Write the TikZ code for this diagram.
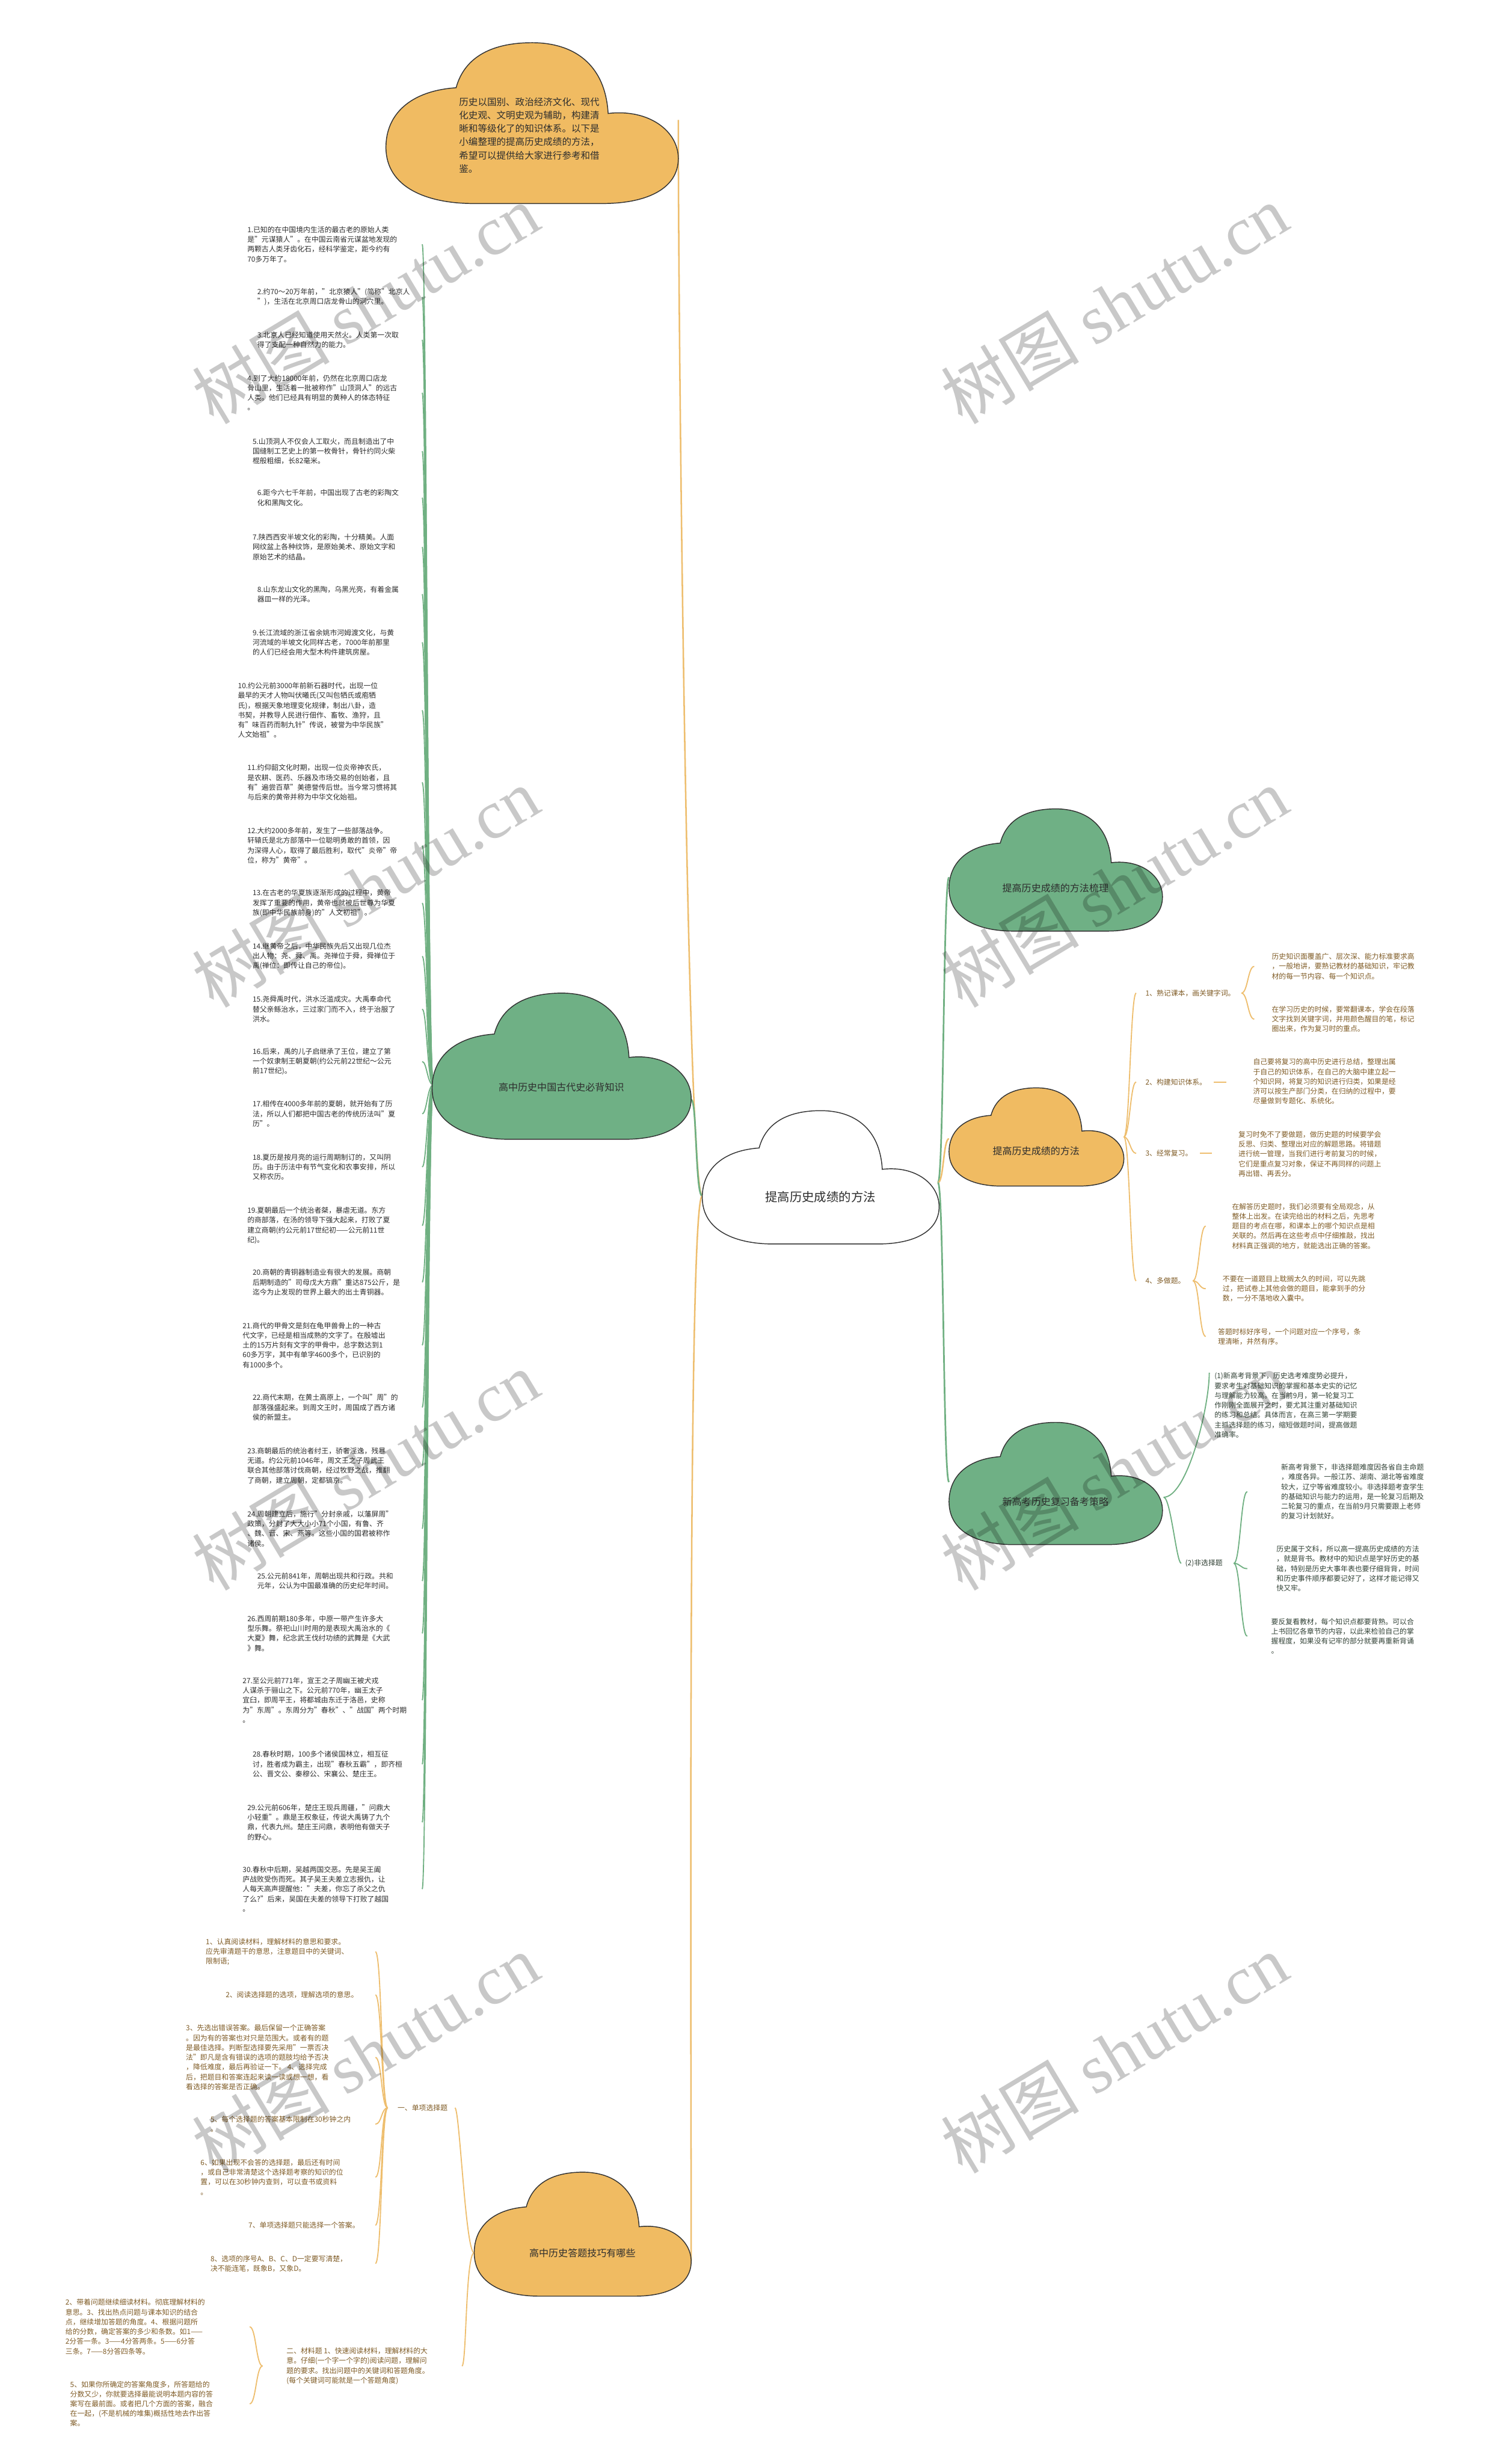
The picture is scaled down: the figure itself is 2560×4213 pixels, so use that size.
\documentclass[tikz,border=0pt]{standalone}
\usepackage{fontspec}
\setmainfont{Noto Sans CJK SC}
\newfontfamily\wmlatin{Liberation Serif}
\usetikzlibrary{calc}
\definecolor{cgreen}{RGB}{111,176,133}
\definecolor{corange}{RGB}{240,187,98}
\definecolor{lgreen}{RGB}{112,176,130}
\definecolor{lorange}{RGB}{238,190,110}
\definecolor{tdark}{RGB}{45,45,45}
\definecolor{tbrown}{RGB}{128,92,38}
\definecolor{tgreen}{RGB}{50,66,54}
\definecolor{wmgray}{RGB}{200,200,200}
\newcommand\drawcloud[4]{%
\begin{scope}[shift={(#1.north west)},xscale=#2,yscale=#3]
\filldraw[fill=#4,draw=black!80,line width=1.5pt]
 (0.24,0.28) .. controls (0.08,0.30) and (0,0.45) .. (0,0.65)
 .. controls (0,0.90) and (0.14,1) .. (0.30,1) -- (0.74,1)
 .. controls (0.90,1) and (1,0.90) .. (1,0.72)
 .. controls (1,0.55) and (0.90,0.41) .. (0.76,0.44)
 .. controls (0.75,0.13) and (0.64,0) .. (0.50,0)
 .. controls (0.37,0) and (0.27,0.08) .. (0.24,0.28) -- cycle;
\end{scope}}
\tikzset{
 tx/.style={inner sep=0pt,outer sep=0pt,align=left,anchor=north west,font=\fontsize{12.2}{16.7}\selectfont},
 tL/.style={tx,text=tdark},
 tO/.style={tx,text=tbrown},
 tG/.style={tx,text=tgreen},
 lab/.style={inner sep=0pt,outer sep=0pt,anchor=west,font=\fontsize{12.2}{16.7}\selectfont},
 cbox/.style={draw=none,inner sep=0pt,outer sep=0pt},
 ctext/.style={inner sep=0pt,font=\fontsize{16.5}{20}\selectfont,text=tdark},
 gmain/.style={draw=lgreen,line width=2.8pt},
 omain/.style={draw=lorange,line width=2.6pt},
 gsub/.style={draw=lgreen,line width=1.9pt},
 osub/.style={draw=lorange,line width=1.9pt},
 wmark/.style={rotate=31,text=wmgray,inner sep=0pt,font=\fontsize{118}{120}\selectfont},
}
\begin{document}
\begin{tikzpicture}[x=1pt,y=-1pt]
\useasboundingbox (0,0) rectangle (2560,4213);
\fill[white] (0,0) rectangle (2560,4213);

% ---------- cloud boxes ----------
\node[cbox,minimum width=500pt,minimum height=275pt] (topc) at (910,210.5) {};
\node[cbox,minimum width=405pt,minimum height=228pt] (cen) at (1403.5,2013) {};
\node[cbox,minimum width=443pt,minimum height=250pt] (gl) at (960.5,1823) {};
\node[cbox,minimum width=365pt,minimum height=209pt] (gt) at (1805.5,1487.5) {};
\node[cbox,minimum width=299pt,minimum height=168pt] (oc) at (1772.5,1944) {};
\node[cbox,minimum width=365pt,minimum height=209pt] (gb) at (1805.5,2536.5) {};
\node[cbox,minimum width=371pt,minimum height=212pt] (ob) at (996.5,3820) {};

% ---------- connector points ----------
\coordinate (cL) at (1201,2045);
\coordinate (cR) at (1604,2022);
\coordinate (tR) at (1160,205);
\coordinate (gR) at (1182,1880);
\coordinate (bR) at (1182,3866);
\coordinate (gtL) at (1623,1500);
\coordinate (ocL) at (1623,1947);
\coordinate (gbL) at (1623,2534);
\coordinate (gLp) at (741,1855);
\coordinate (lcol) at (722,0);
\coordinate (ocR) at (1922,1944);
\coordinate (ocol) at (1943,0);
\coordinate (b1v) at (2123,1698);
\coordinate (b1t) at (2145,0);
\coordinate (o2a) at (2076,0);
\coordinate (o2b) at (2097,0);
\coordinate (o3a) at (2052,0);
\coordinate (o3b) at (2073,0);
\coordinate (b4v) at (2040,2190);
\coordinate (b4t) at (2062,0);
\coordinate (gbR) at (1990,2560);
\coordinate (g1e) at (2068,2347);
\coordinate (g2e) at (2020,0);
\coordinate (g2v) at (2110,2673);
\coordinate (g2t) at (2133,0);
\coordinate (obL) at (811,3852);
\coordinate (uex) at (778,0);
\coordinate (uv) at (663,3604);
\coordinate (utx) at (642,0);
\coordinate (mex) at (790,0);
\coordinate (mvx) at (449,0);
\coordinate (mtx) at (427,0);

% ---------- left column texts ----------
\node[tL] (L1) at (423,387) {1.已知的在中国境内生活的最古老的原始人类\\是"元谋猿人"。在中国云南省元谋盆地发现的\\两颗古人类牙齿化石，经科学鉴定，距今约有\\70多万年了。};
\node[tL] (L2) at (440,493) {2.约70～20万年前，"北京猿人"(简称"北京人\\")，生活在北京周口店龙骨山的洞穴里。};
\node[tL] (L3) at (440,567) {3.北京人已经知道使用天然火。人类第一次取\\得了支配一种自然力的能力。};
\node[tL] (L4) at (423,641) {4.到了大约18000年前，仍然在北京周口店龙\\骨山里，生活着一批被称作"山顶洞人"的远古\\人类。他们已经具有明显的黄种人的体态特征\\。};
\node[tL] (L5) at (432,749) {5.山顶洞人不仅会人工取火，而且制造出了中\\国缝制工艺史上的第一枚骨针，骨针约同火柴\\棍般粗细，长82毫米。};
\node[tL] (L6) at (440,837) {6.距今六七千年前，中国出现了古老的彩陶文\\化和黑陶文化。};
\node[tL] (L7) at (432,913) {7.陕西西安半坡文化的彩陶，十分精美。人面\\网纹盆上各种纹饰，是原始美术、原始文字和\\原始艺术的结晶。};
\node[tL] (L8) at (440,1002) {8.山东龙山文化的黑陶，乌黑光亮，有着金属\\器皿一样的光泽。};
\node[tL] (L9) at (432,1076) {9.长江流域的浙江省余姚市河姆渡文化，与黄\\河流域的半坡文化同样古老，7000年前那里\\的人们已经会用大型木构件建筑房屋。};
\node[tL] (L10) at (407,1167) {10.约公元前3000年前新石器时代，出现一位\\最早的天才人物叫伏曦氏(又叫包牺氏或庖牺\\氏)，根据天象地理变化规律，制出八卦，造\\书契，并教导人民进行佃作、畜牧、渔狩，且\\有"味百药而制九针"传说，被誉为中华民族"\\人文始祖"。};
\node[tL] (L11) at (423,1307) {11.约仰韶文化时期，出现一位炎帝神农氏，\\是农耕、医药、乐器及市场交易的创始者，且\\有"遍尝百草"美德誉传后世。当今常习惯将其\\与后来的黄帝并称为中华文化始祖。};
\node[tL] (L12) at (423,1415) {12.大约2000多年前，发生了一些部落战争。\\轩辕氏是北方部落中一位聪明勇敢的首领，因\\为深得人心，取得了最后胜利，取代"炎帝"帝\\位，称为"黄帝"。};
\node[tL] (L13) at (432,1521) {13.在古老的华夏族逐渐形成的过程中，黄帝\\发挥了重要的作用，黄帝也就被后世尊为华夏\\族(即中华民族前身)的"人文初祖"。};
\node[tL] (L14) at (432,1612) {14.继黄帝之后，中华民族先后又出现几位杰\\出人物：尧、舜、禹。尧禅位于舜，舜禅位于\\禹(禅位：即传让自己的帝位)。};
\node[tL] (L15) at (432,1703) {15.尧舜禹时代，洪水泛滥成灾。大禹奉命代\\替父亲鲧治水，三过家门而不入，终于治服了\\洪水。};
\node[tL] (L16) at (432,1792) {16.后来，禹的儿子启继承了王位，建立了第\\一个奴隶制王朝夏朝(约公元前22世纪～公元\\前17世纪)。};
\node[tL] (L17) at (432,1882) {17.相传在4000多年前的夏朝，就开始有了历\\法，所以人们都把中国古老的传统历法叫"夏\\历"。};
\node[tL] (L18) at (432,1973) {18.夏历是按月亮的运行周期制订的，又叫阴\\历。由于历法中有节气变化和农事安排，所以\\又称农历。};
\node[tL] (L19) at (423,2064) {19.夏朝最后一个统治者桀，暴虐无道。东方\\的商部落，在汤的领导下强大起来，打败了夏\\建立商朝(约公元前17世纪初——公元前11世\\纪)。};
\node[tL] (L20) at (432,2170) {20.商朝的青铜器制造业有很大的发展。商朝\\后期制造的"司母戊大方鼎"重达875公斤，是\\迄今为止发现的世界上最大的出土青铜器。};
\node[tL] (L21) at (415,2261) {21.商代的甲骨文是刻在龟甲兽骨上的一种古\\代文字，已经是相当成熟的文字了。在殷墟出\\土的15万片刻有文字的甲骨中，总字数达到1\\60多万字，其中有单字4600多个，已识别的\\有1000多个。};
\node[tL] (L22) at (432,2384) {22.商代末期，在黄土高原上，一个叫"周"的\\部落强盛起来。到周文王时，周国成了西方诸\\侯的新盟主。};
\node[tL] (L23) at (423,2475) {23.商朝最后的统治者纣王，骄奢淫逸，残暴\\无道。约公元前1046年，周文王之子周武王\\联合其他部落讨伐商朝，经过牧野之战，推翻\\了商朝，建立周朝，定都镐京。};
\node[tL] (L24) at (423,2583) {24.周朝建立后，施行"分封亲戚，以藩屏周"\\政策，分封了大大小小71个小国，有鲁、齐\\、魏、晋、宋、燕等。这些小国的国君被称作\\诸侯。};
\node[tL] (L25) at (440,2689) {25.公元前841年，周朝出现共和行政。共和\\元年，公认为中国最准确的历史纪年时间。};
\node[tL] (L26) at (423,2762) {26.西周前期180多年，中原一带产生许多大\\型乐舞。祭祀山川时用的是表现大禹治水的《\\大夏》舞，纪念武王伐纣功绩的武舞是《大武\\》舞。};
\node[tL] (L27) at (415,2868) {27.至公元前771年，宣王之子周幽王被犬戎\\人谋杀于骊山之下。公元前770年，幽王太子\\宜臼，即周平王，将都城由东迁于洛邑，史称\\为"东周"。东周分为"春秋"、"战国"两个时期\\。};
\node[tL] (L28) at (432,2994) {28.春秋时期，100多个诸侯国林立，相互征\\讨，胜者成为霸主，出现"春秋五霸"，即齐桓\\公、晋文公、秦穆公、宋襄公、楚庄王。};
\node[tL] (L29) at (423,3085) {29.公元前606年，楚庄王现兵周疆，"问鼎大\\小轻重"。鼎是王权象征，传说大禹铸了九个\\鼎，代表九州。楚庄王问鼎，表明他有做天子\\的野心。};
\node[tL] (L30) at (415,3191) {30.春秋中后期，吴越两国交恶。先是吴王阖\\庐战败受伤而死。其子吴王夫差立志报仇，让\\人每天高声提醒他："夫差，你忘了杀父之仇\\了么?"后来，吴国在夫差的领导下打败了越国\\。};

% ---------- right orange branch ----------
\node[lab,text=tbrown] (O1) at (1959,1698) {1、熟记课本，画关键字词。};
\node[lab,text=tbrown] (O2) at (1959,1850) {2、构建知识体系。};
\node[lab,text=tbrown] (O3) at (1959,1972) {3、经常复习。};
\node[lab,text=tbrown] (O4) at (1959,2190) {4、多做题。};
\node[tO] (OA) at (2175,1630) {历史知识面覆盖广、层次深、能力标准要求高\\，一般地讲，要熟记教材的基础知识，牢记教\\材的每一节内容、每一个知识点。};
\node[tO] (OB) at (2175,1720) {在学习历史的时候，要常翻课本，学会在段落\\文字找到关键字词，并用颜色醒目的笔，标记\\圈出来，作为复习时的重点。};
\node[tO] (O2t) at (2143,1810) {自己要将复习的高中历史进行总结，整理出属\\于自己的知识体系，在自己的大脑中建立起一\\个知识网，将复习的知识进行归类，如果是经\\济可以按生产部门分类，在归纳的过程中，要\\尽量做到专题化、系统化。};
\node[tO] (O3t) at (2118,1934) {复习时免不了要做题，做历史题的时候要学会\\反思、归类、整理出对应的解题思路。将错题\\进行统一管理，当我们进行考前复习的时候，\\它们是重点复习对象，保证不再同样的问题上\\再出错、再丢分。};
\node[tO] (O4a) at (2107,2057) {在解答历史题时，我们必须要有全局观念，从\\整体上出发。在读完给出的材料之后，先思考\\题目的考点在哪，和课本上的哪个知识点是相\\关联的。然后再在这些考点中仔细推敲，找出\\材料真正强调的地方，就能选出正确的答案。};
\node[tO] (O4b) at (2091,2181) {不要在一道题目上耽搁太久的时间，可以先跳\\过，把试卷上其他会做的题目，能拿到手的分\\数，一分不落地收入囊中。};
\node[tO] (O4c) at (2083,2271) {答题时标好序号，一个问题对应一个序号，条\\理清晰，井然有序。};

% ---------- right green branch ----------
\node[tG] (G1) at (2077,2347) {(1)新高考背景下，历史选考难度势必提升，\\要求考生对基础知识的掌握和基本史实的记忆\\与理解能力较高。在当前9月，第一轮复习工\\作刚刚全面展开之时，要尤其注重对基础知识\\的练习和总结。具体而言，在高三第一学期要\\主抓选择题的练习，缩短做题时间，提高做题\\准确率。};
\node[lab,text=tgreen] (G2) at (2027,2673) {(2)非选择题};
\node[tG] (G2a) at (2191,2503) {新高考背景下，非选择题难度因各省自主命题\\，难度各异。一般江苏、湖南、湖北等省难度\\较大，辽宁等省难度较小。非选择题考查学生\\的基础知识与能力的运用，是一轮复习后期及\\二轮复习的重点，在当前9月只需要跟上老师\\的复习计划就好。};
\node[tG] (G2b) at (2183,2643) {历史属于文科，所以高一提高历史成绩的方法\\，就是背书。教材中的知识点是学好历史的基\\础，特别是历史大事年表也要仔细背背，时间\\和历史事件顺序都要记好了，这样才能记得又\\快又牢。};
\node[tG] (G2c) at (2174,2767) {要反复看教材，每个知识点都要背熟。可以合\\上书回忆各章节的内容，以此来检验自己的掌\\握程度，如果没有记牢的部分就要再重新背诵\\。};

% ---------- bottom orange branch ----------
\node[lab,text=tbrown] (U) at (680,3604) {一、单项选择题};
\node[tO] (U1) at (352,3314) {1、认真阅读材料，理解材料的意思和要求。\\应先审清题干的意思，注意题目中的关键词、\\限制语;};
\node[tO] (U2) at (386,3405) {2、阅读选择题的选项，理解选项的意思。};
\node[tO] (U3) at (318,3462) {3、先选出错误答案。最后保留一个正确答案\\。因为有的答案也对只是范围大。或者有的题\\是最佳选择。判断型选择要先采用"一票否决\\法"即凡是含有错误的选项的题肢均给予否决\\，降低难度，最后再验证一下。 4、选择完成\\后，把题目和答案连起来读一读或想一想，看\\看选择的答案是否正确。};
\node[tO] (U5) at (360,3618) {5、每个选择题的答案基本限制在30秒钟之内\\。};
\node[tO] (U6) at (343,3692) {6、如果出现不会答的选择题，最后还有时间\\，或自己非常清楚这个选择题考察的知识的位\\置，可以在30秒钟内查到，可以查书或资料\\。};
\node[tO] (U7) at (425,3799) {7、单项选择题只能选择一个答案。};
\node[tO] (U8) at (360,3856) {8、选项的序号A、B、C、D一定要写清楚，\\决不能连笔，既象B，又象D。};
\node[tO] (M) at (490,4014) {二、材料题 1、快速阅读材料，理解材料的大\\意。仔细(一个字一个字的)阅读问题，理解问\\题的要求。找出问题中的关键词和答题角度。\\(每个关键词可能就是一个答题角度)};
\node[tO] (B1) at (112,3931) {2、带着问题继续细读材料。彻底理解材料的\\意思。3、找出热点问题与课本知识的结合\\点，继续增加答题的角度。4、根据问题所\\给的分数，确定答案的多少和条数。如1——\\2分答一条。3——4分答两条。5——6分答\\三条。7——8分答四条等。};
\node[tO] (B2) at (120,4071) {5、如果你所确定的答案角度多，所答题给的\\分数又少，你就要选择最能说明本题内容的答\\案写在最前面。或者把几个方面的答案，融合\\在一起，(不是机械的堆集)概括性地去作出答\\案。};

% ---------- connectors ----------
\draw[omain] (cL) .. controls +(-25,0) and +(0,400) .. (tR);
\draw[gmain] (cL) .. controls +(-12,0) and +(10,0) .. (gR);
\draw[omain] (cL) .. controls +(-25,0) and +(0,-400) .. (bR);
\draw[gmain] (cR) .. controls +(10,0) and +(-10,0) .. (gtL);
\draw[omain] (cR) .. controls +(10,0) and +(-10,0) .. (ocL);
\draw[gmain] (cR) .. controls +(10,0) and +(-10,0) .. (gbL);
\foreach \i in {1,...,30}{\draw[gsub] (gLp) .. controls +(-10,0) and +(8,0) .. (L\i.east -| lcol);}
\foreach \n in {O1,O2,O3,O4}{\draw[osub] (ocR) .. controls +(10,0) and +(-10,0) .. (\n.west -| ocol);}
\foreach \n in {OA,OB}{\draw[osub] (b1v) .. controls +(11,0) and +(-11,0) .. (\n.west -| b1t);}
\draw[osub] (O2.east -| o2a) -- (O2.east -| o2b);
\draw[osub] (O3.east -| o3a) -- (O3.east -| o3b);
\foreach \n in {O4a,O4b,O4c}{\draw[osub] (b4v) .. controls +(11,0) and +(-11,0) .. (\n.west -| b4t);}
\draw[gsub] (gbR) .. controls +(40,0) and +(0,60) .. (g1e);
\draw[gsub] (gbR) .. controls +(12,0) and +(-8,0) .. (G2.west -| g2e);
\foreach \n in {G2a,G2b,G2c}{\draw[gsub] (g2v) .. controls +(11,0) and +(-11,0) .. (\n.west -| g2t);}
\draw[osub] (obL) .. controls +(-15,0) and +(8,0) .. (U.east -| uex);
\draw[osub] (obL) .. controls +(-15,0) and +(8,0) .. (M.east -| mex);
\foreach \n in {U1,U2,U3,U5,U6,U7,U8}{\draw[osub] (uv) .. controls +(-11,0) and +(11,0) .. (\n.east -| utx);}
\foreach \n in {B1,B2}{\draw[osub] (M.west -| mvx) .. controls +(-11,0) and +(11,0) .. (\n.east -| mtx);}

% ---------- clouds ----------
\drawcloud{topc}{500}{275}{corange}
\drawcloud{cen}{405}{228}{white}
\drawcloud{gl}{443}{250}{cgreen}
\drawcloud{gt}{365}{209}{cgreen}
\drawcloud{oc}{299}{168}{corange}
\drawcloud{gb}{365}{209}{cgreen}
\drawcloud{ob}{371}{212}{corange}

\node[inner sep=0pt,anchor=north west,align=left,text=tdark,font=\fontsize{16}{22.7}\selectfont] (topt) at (785,167) {历史以国别、政治经济文化、现代\\化史观、文明史观为辅助，构建清\\晰和等级化了的知识体系。以下是\\小编整理的提高历史成绩的方法，\\希望可以提供给大家进行参考和借\\鉴。};
\node[ctext,font=\fontsize{21}{24}\selectfont] (cent) at (1403,2047) {提高历史成绩的方法};
\node[ctext] (glt) at (960,1859) {高中历史中国古代史必背知识};
\node[ctext] (gtt) at (1805,1519) {提高历史成绩的方法梳理};
\node[ctext] (oct) at (1772,1968) {提高历史成绩的方法};
\node[ctext] (gbt) at (1805,2568) {新高考历史复习备考策略};
\node[ctext] (obt) at (996,3852) {高中历史答题技巧有哪些};

% ---------- watermark ----------
\begin{scope}[blend mode=multiply]
\foreach \wx/\wy in {625/520,1906/520,625/1517,1906/1517,625/2514,1906/2514,625/3511,1906/3511}{
 \node[wmark] (wm-\wx-\wy) at (\wx,\wy) {树图 {\wmlatin shutu.cn}};}
\end{scope}
\end{tikzpicture}
\end{document}
